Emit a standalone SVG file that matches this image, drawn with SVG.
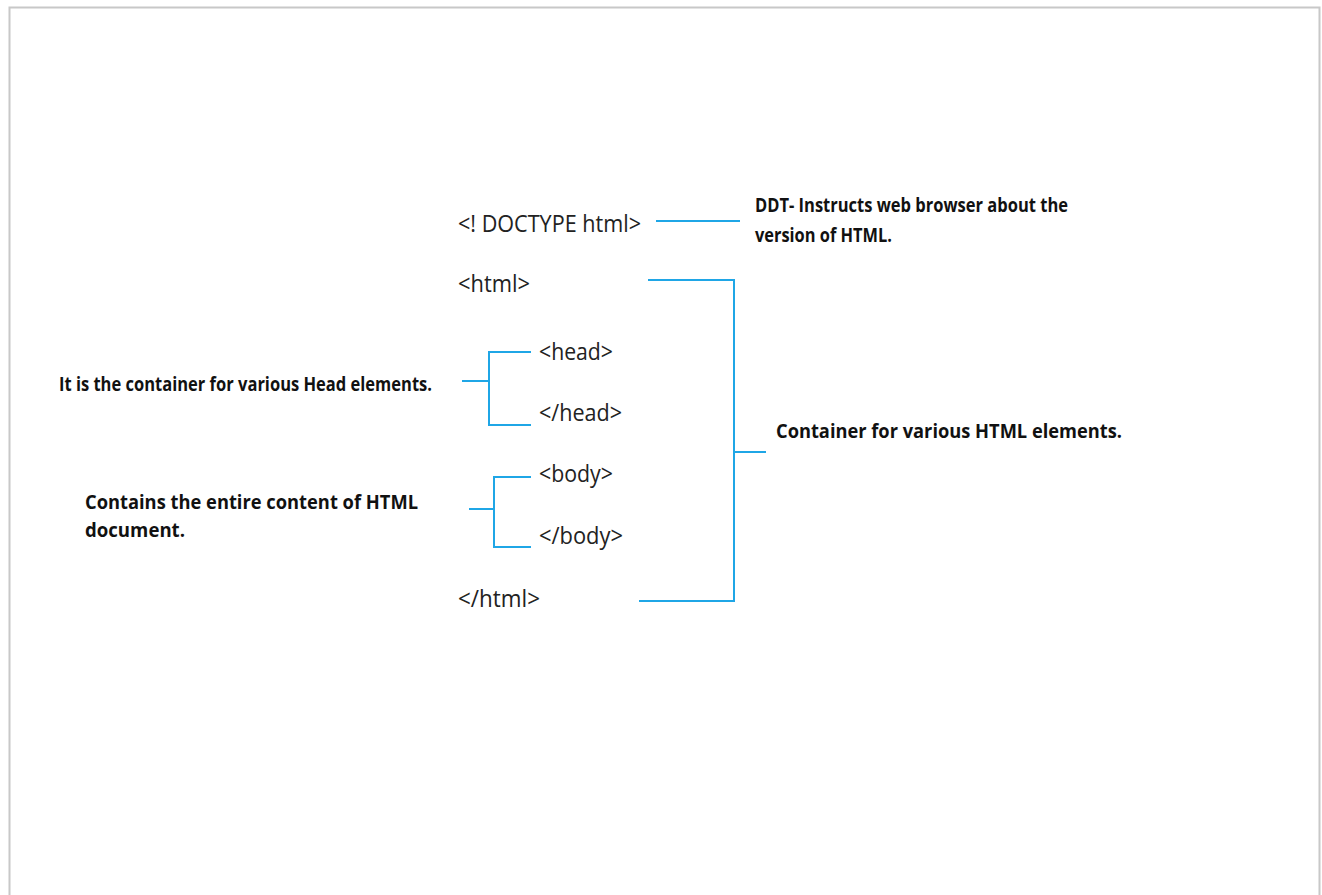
<svg xmlns="http://www.w3.org/2000/svg" width="1322" height="895" viewBox="0 0 1322 895">
  <style>
    .tag { font-family: "Open Sans", "Liberation Sans", sans-serif; font-size: 24px; fill: #222; }
    .note { font-family: "Open Sans", "Liberation Sans", sans-serif; font-size: 20px; font-weight: bold; fill: #111; }
    .wire { stroke: #1fa6e6; stroke-width: 2; fill: none; }
  </style>
  <rect x="0" y="0" width="1322" height="895" fill="#fff"/>
  <!-- page frame -->
  <path d="M9.5 895 V7.5 H1319.5 V895" fill="none" stroke="#c8c8c8" stroke-width="2"/>

  <g id="doctype">
    <text class="tag" x="458" y="232" textLength="183" lengthAdjust="spacingAndGlyphs">&lt;! DOCTYPE html&gt;</text>
  </g>
  <g id="ddt-note">
    <text class="note" x="755" y="212" textLength="313" lengthAdjust="spacingAndGlyphs">DDT- Instructs web browser about the</text>
    <text class="note" x="755" y="242" textLength="137" lengthAdjust="spacingAndGlyphs">version of HTML.</text>
  </g>
  <g id="html-open">
    <text class="tag" x="458" y="292" textLength="72" lengthAdjust="spacingAndGlyphs">&lt;html&gt;</text>
  </g>
  <g id="head-open">
    <text class="tag" x="539" y="360" textLength="74" lengthAdjust="spacingAndGlyphs">&lt;head&gt;</text>
  </g>
  <g id="head-close">
    <text class="tag" x="539" y="421" textLength="83" lengthAdjust="spacingAndGlyphs">&lt;/head&gt;</text>
  </g>
  <g id="head-note">
    <text class="note" x="59" y="391" textLength="373" lengthAdjust="spacingAndGlyphs">It is the container for various Head elements.</text>
  </g>
  <g id="body-open">
    <text class="tag" x="539" y="482" textLength="74" lengthAdjust="spacingAndGlyphs">&lt;body&gt;</text>
  </g>
  <g id="body-close">
    <text class="tag" x="539" y="544" textLength="84" lengthAdjust="spacingAndGlyphs">&lt;/body&gt;</text>
  </g>
  <g id="body-note">
    <text class="note" x="85" y="509" textLength="333" lengthAdjust="spacingAndGlyphs">Contains the entire content of HTML</text>
    <text class="note" x="85" y="537" textLength="100" lengthAdjust="spacingAndGlyphs">document.</text>
  </g>
  <g id="html-close">
    <text class="tag" x="458" y="607" textLength="82" lengthAdjust="spacingAndGlyphs">&lt;/html&gt;</text>
  </g>
  <g id="html-note">
    <text class="note" x="776" y="438" textLength="346" lengthAdjust="spacingAndGlyphs">Container for various HTML elements.</text>
  </g>

  <g id="connectors">
    <line class="wire" x1="656" y1="221" x2="740" y2="221"/>
    <path class="wire" d="M648 280 H734 V601 H639 M734 452 H766"/>
    <path class="wire" d="M531 352 H489 V425 H531 M489 381 H462"/>
    <path class="wire" d="M531 477 H494 V547 H531 M494 509 H469"/>
  </g>
</svg>
